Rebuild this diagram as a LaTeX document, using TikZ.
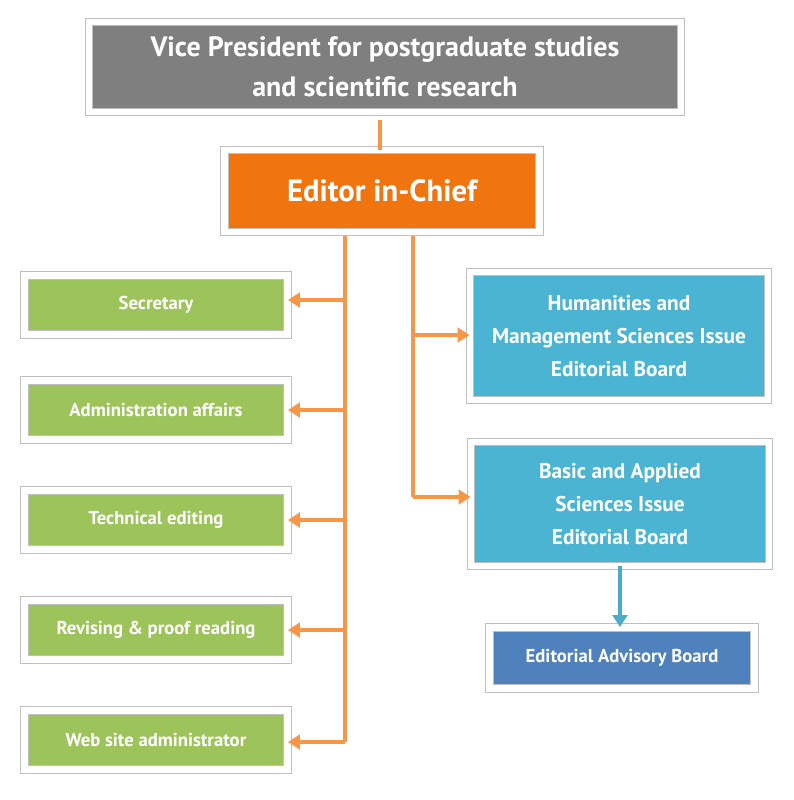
\documentclass[tikz,border=0pt]{standalone}
\usepackage{fontspec}
\setmainfont{PT Sans}
\usetikzlibrary{shadows,arrows.meta}
\definecolor{vpgray}{HTML}{7F7F7F}
\definecolor{edorange}{HTML}{F0750F}
\definecolor{grn}{HTML}{9DC35B}
\definecolor{cyanb}{HTML}{4BB4D2}
\definecolor{blueb}{HTML}{4F81BD}
\definecolor{conn}{HTML}{F79646}
\definecolor{bconn}{HTML}{4BACC6}
\tikzset{
 box/.style={draw=black!25,line width=0.7pt,double=white,double distance=5pt,
   drop shadow={opacity=0.3,shadow xshift=2pt,shadow yshift=-2pt},
   text=white,font=\bfseries,align=center,inner sep=0pt},
 oarr/.style={draw=conn,line width=2.6pt,-{Triangle[length=9pt,width=11pt]}},
 oline/.style={draw=conn,line width=2.6pt},
}
\begin{document}
\begin{tikzpicture}[x=0.75pt,y=-0.75pt]
\useasboundingbox (0,0) rectangle (793,800);
\node[box,fill=vpgray,minimum width=592*0.75pt,minimum height=90*0.75pt,font=\bfseries\fontsize{21}{30}\selectfont] (vp) at (385,67) {Vice President for postgraduate studies\\and scientific research};
\node[box,fill=edorange,minimum width=315*0.75pt,minimum height=82*0.75pt,font=\bfseries\fontsize{23}{28}\selectfont] (ed) at (382,191) {Editor in-Chief};
\tikzset{g/.style={box,fill=grn,minimum width=263*0.75pt,minimum height=59*0.75pt,font=\bfseries\fontsize{14}{18}\selectfont}}
\node[g] (s1) at (156,305) {Secretary};
\node[g] (s2) at (156,410) {Administration affairs};
\node[g] (s3) at (156,520) {Technical editing};
\node[g] (s4) at (156,630) {Revising \& proof reading};
\node[g] (s5) at (156,740) {Web site administrator};
\tikzset{c/.style={box,fill=cyanb,minimum width=298*0.75pt,font=\bfseries\fontsize{16}{25}\selectfont}}
\node[c,minimum height=128*0.75pt] (h) at (619,336) {Humanities and\\Management Sciences Issue\\Editorial Board};
\node[c,minimum height=124*0.75pt] (b) at (620,504) {Basic and Applied\\Sciences Issue\\Editorial Board};
\node[box,fill=blueb,minimum width=265*0.75pt,minimum height=61*0.75pt,font=\bfseries\fontsize{14}{18}\selectfont] (a) at (622,658) {Editorial Advisory Board};
\coordinate (t1) at (380,120);
\draw[oline] (t1) -- (t1 |- ed.north);
\coordinate (l0) at (345,236);
\coordinate (l5) at (345,742);
\draw[oline] (l0) -- (l5);
\foreach \n/\y in {s1/300,s2/410,s3/520,s4/630,s5/742}{
  \draw[oarr] (345,\y) -- (\n.east |- 0,\y);
}
\coordinate (r0) at (413,236);
\draw[oline] (r0) -- (413,497);
\draw[oarr] (413,335) -- (h.west |- 0,335);
\draw[oarr] (413,497) -- (b.west |- 0,497);
\draw[draw=bconn,line width=2.6pt,-{Triangle[length=9pt,width=11pt]}] (b.south -| 620,0) -- (a.north -| 620,0);
\end{tikzpicture}
\end{document}
